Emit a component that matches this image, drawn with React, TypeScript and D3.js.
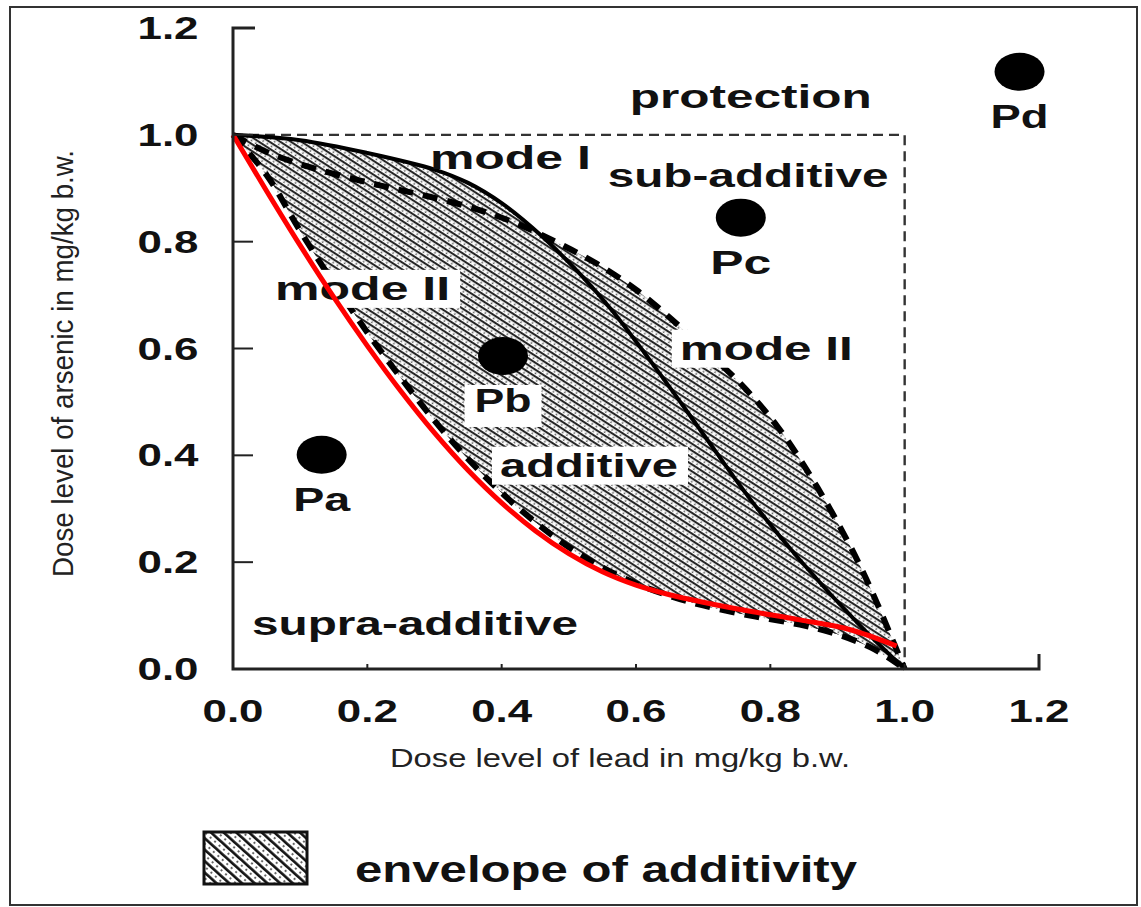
import React from 'react';
import * as d3 from 'd3';

// ---------- data ----------
const tickValues = [0, 0.2, 0.4, 0.6, 0.8, 1.0, 1.2];
const tickLabels = ['0.0', '0.2', '0.4', '0.6', '0.8', '1.0', '1.2'];

// additivity isobole, mode I (solid)
const modeICurve: [number, number][] = [
  [0, 1.0], [0.1, 0.99], [0.2, 0.966], [0.3, 0.935], [0.35, 0.91], [0.4, 0.872],
  [0.46, 0.81], [0.52, 0.735], [0.565, 0.67], [0.64, 0.545], [0.70, 0.44],
  [0.77, 0.318], [0.844, 0.204], [0.933, 0.082], [1.0, 0.0],
];

// mode II, upper-right boundary (dashed)
const modeIIUpper: [number, number][] = [
  [0, 1.0], [0.05, 0.968], [0.10, 0.945], [0.15, 0.927], [0.22, 0.905],
  [0.29, 0.885], [0.36, 0.862], [0.42, 0.835], [0.48, 0.80], [0.54, 0.76],
  [0.60, 0.71], [0.65, 0.658], [0.70, 0.60], [0.755, 0.535], [0.81, 0.455],
  [0.87, 0.34], [0.925, 0.215], [0.96, 0.12], [0.985, 0.045], [1.0, 0.0],
];

// mode II, lower-left boundary (dashed)
const modeIILower: [number, number][] = [
  [0, 1.0], [0.05, 0.925], [0.10, 0.82], [0.15, 0.722], [0.20, 0.63],
  [0.25, 0.545], [0.30, 0.465], [0.35, 0.393], [0.40, 0.33], [0.45, 0.275],
  [0.50, 0.228], [0.55, 0.19], [0.60, 0.16], [0.65, 0.137], [0.70, 0.119],
  [0.77, 0.10], [0.844, 0.083], [0.90, 0.065], [0.95, 0.04], [0.98, 0.018], [1.0, 0.0],
];

// red curve
const redCurve: [number, number][] = [
  [0, 1.0], [0.05, 0.895], [0.10, 0.793], [0.15, 0.696], [0.20, 0.605],
  [0.25, 0.52], [0.30, 0.442], [0.35, 0.372], [0.40, 0.311], [0.45, 0.259],
  [0.50, 0.216], [0.55, 0.182], [0.60, 0.157], [0.65, 0.139], [0.70, 0.125],
  [0.77, 0.108], [0.844, 0.092], [0.918, 0.074], [0.988, 0.043],
];

// mixture points
const pointNames = ['Pa', 'Pb', 'Pc', 'Pd'];
const pointX = [0.132, 0.402, 0.756, 1.171];
const pointY = [0.401, 0.586, 0.845, 1.118];

// region annotations (data coordinates: centre x, baseline y)
const regionNames = ['protection', 'mode I', 'sub-additive', 'mode II', 'mode II', 'additive', 'supra-additive'];
const regionX = [0.771, 0.413, 0.767, 0.193, 0.794, 0.530, 0.271];
const regionY = [1.051, 0.936, 0.903, 0.691, 0.579, 0.360, 0.064];

const xTitle = 'Dose level of lead in mg/kg b.w.';
const yTitle = 'Dose level of arsenic in mg/kg b.w.';
const legendLabel = 'envelope of additivity';

// ---------- layout / style ----------
const W = 1141;
const H = 907;
const regionWidths = [242, 161, 281, 175, 173, 178, 326];
const regionBoxed = [false, false, false, true, true, true, false];
const pointLabelWidths = [57, 57, 61, 58];
const pointBoxed = [false, true, false, false];
const FONT = '"Liberation Sans", Arial, Helvetica, sans-serif';
const NARROW = '"Liberation Sans Narrow", "Arial Narrow", "Liberation Sans", Arial, sans-serif';

export default function App() {
  const x = d3.scaleLinear().domain([0, 1.2]).range([233, 1039]);
  const y = d3.scaleLinear().domain([0, 1.2]).range([669, 28]);

  const line = d3
    .line<[number, number]>()
    .x((d) => x(d[0]))
    .y((d) => y(d[1]))
    .curve(d3.curveCatmullRom.alpha(0.5));

  const origin = `L${x(0)},${y(0)}Z`;
  const belowUpper = line(modeIIUpper) + origin;
  const belowModeI = line(modeICurve) + origin;
  const aboveLower =
    line(modeIILower) + `L${x(1.1)},${y(0)}L${x(1.1)},${y(1.1)}L${x(0)},${y(1.1)}Z`;

  return (
    <svg
      width={W}
      height={H}
      viewBox={`0 0 ${W} ${H}`}
      style={{ position: 'absolute', left: 0, top: 0, background: '#fff' }}
    >
      <defs>
        <pattern id="hatch" patternUnits="userSpaceOnUse" width="10" height="5.8" patternTransform="rotate(33)">
          <rect width="10" height="5.8" fill="#fff" />
          <line x1="0" y1="1.1" x2="10" y2="1.1" stroke="#1a1a1a" strokeWidth="2" />
          <circle cx="2.5" cy="4" r="0.9" fill="#555" />
          <circle cx="7.5" cy="4" r="0.9" fill="#555" />
        </pattern>
        <pattern id="legendHatch" patternUnits="userSpaceOnUse" width="12" height="8.5" patternTransform="rotate(42)">
          <rect width="12" height="8.5" fill="#fff" />
          <line x1="0" y1="1.5" x2="12" y2="1.5" stroke="#111" strokeWidth="2.6" />
          <circle cx="3" cy="5.6" r="1" fill="#444" />
          <circle cx="9" cy="5.6" r="1" fill="#444" />
        </pattern>
        <clipPath id="aboveLower">
          <path d={aboveLower} />
        </clipPath>
      </defs>

      <rect x={10} y={7} width={1127} height={898} fill="#fff" stroke="#333" strokeWidth={2} />

      {/* envelope of additivity */}
      <g clipPath="url(#aboveLower)">
        <path d={belowUpper} fill="url(#hatch)" />
        <path d={belowModeI} fill="url(#hatch)" />
      </g>

      {/* dashed unit box */}
      <path
        d={`M${x(0)},${y(1)}L${x(1)},${y(1)}L${x(1)},${y(0)}`}
        fill="none"
        stroke="#333"
        strokeWidth={2.4}
        strokeDasharray="10 6"
      />

      {/* isoboles */}
      <path d={line(modeICurve) || ''} fill="none" stroke="#000" strokeWidth={4} />
      <path d={line(modeIIUpper) || ''} fill="none" stroke="#000" strokeWidth={6} strokeDasharray="15 10" />
      <path d={line(modeIILower) || ''} fill="none" stroke="#000" strokeWidth={6} strokeDasharray="15 10" />

      {/* region labels */}
      {regionNames.map((t, i) => {
        const cx = x(regionX[i]);
        const by = y(regionY[i]);
        const w = regionWidths[i];
        return (
          <g key={`r${i}`}>
            {regionBoxed[i] && (
              <rect x={cx - w / 2 - 8} y={by - 30} width={w + 18} height={38} fill="#fff" />
            )}
            <text
              x={cx}
              y={by}
              textAnchor="middle"
              fontFamily={FONT}
              fontWeight="bold"
              fontSize={33}
              fill="#111"
              textLength={w}
              lengthAdjust="spacingAndGlyphs"
            >
              {t}
            </text>
          </g>
        );
      })}

      {/* points */}
      {pointNames.map((t, i) => {
        const cx = x(pointX[i]);
        const cy = y(pointY[i]);
        const w = pointLabelWidths[i];
        return (
          <g key={`p${i}`}>
            {pointBoxed[i] && (
              <rect x={cx - w / 2 - 10} y={cy + 29} width={w + 20} height={42} fill="#fff" />
            )}
            <ellipse cx={cx} cy={cy} rx={25} ry={19} fill="#000" />
            <text
              x={cx}
              y={cy + 56}
              textAnchor="middle"
              fontFamily={FONT}
              fontWeight="bold"
              fontSize={33}
              fill="#111"
              textLength={w}
              lengthAdjust="spacingAndGlyphs"
            >
              {t}
            </text>
          </g>
        );
      })}

      {/* red curve */}
      <path d={line(redCurve) || ''} fill="none" stroke="#ff0000" strokeWidth={5} strokeLinecap="butt" />

      {/* axes */}
      <g stroke="#222" strokeWidth={3} fill="none">
        <path d={`M${x(0) + 22},${y(1.2)}H${x(0)}V${y(0)}H${x(1.2)}V${y(0) - 15}`} />
        {tickValues.slice(1, 6).map((v) => (
          <line key={`yt${v}`} x1={x(0)} x2={x(0) + 20} y1={y(v)} y2={y(v)} strokeWidth={2} />
        ))}
        {tickValues.slice(1, 6).map((v) => (
          <line key={`xt${v}`} x1={x(v)} x2={x(v)} y1={y(0)} y2={y(0) - 5} strokeWidth={2} />
        ))}
      </g>

      {tickValues.map((v, i) => (
        <text
          key={`xl${i}`}
          x={x(v)}
          y={722}
          textAnchor="middle"
          fontFamily={FONT}
          fontWeight="bold"
          fontSize={31}
          fill="#111"
          textLength={61}
          lengthAdjust="spacingAndGlyphs"
        >
          {tickLabels[i]}
        </text>
      ))}
      {tickValues.map((v, i) => (
        <text
          key={`yl${i}`}
          x={168}
          y={y(v) + 11}
          textAnchor="middle"
          fontFamily={FONT}
          fontWeight="bold"
          fontSize={31}
          fill="#111"
          textLength={61}
          lengthAdjust="spacingAndGlyphs"
        >
          {tickLabels[i]}
        </text>
      ))}

      {/* axis titles */}
      <text
        x={620}
        y={767}
        textAnchor="middle"
        fontFamily={NARROW}
        fontSize={25}
        fill="#222"
        textLength={460}
        lengthAdjust="spacingAndGlyphs"
      >
        {xTitle}
      </text>
      <text
        transform={`translate(73,${(150 + 577) / 2}) rotate(-90)`}
        textAnchor="middle"
        fontFamily={NARROW}
        fontSize={30}
        fill="#222"
        textLength={427}
        lengthAdjust="spacingAndGlyphs"
      >
        {yTitle}
      </text>

      {/* legend */}
      <rect x={204} y={832} width={103} height={52} fill="url(#legendHatch)" stroke="#111" strokeWidth={3} />
      <text
        x={355}
        y={882}
        fontFamily={FONT}
        fontWeight="bold"
        fontSize={36}
        fill="#111"
        textLength={502}
        lengthAdjust="spacingAndGlyphs"
      >
        {legendLabel}
      </text>
    </svg>
  );
}
